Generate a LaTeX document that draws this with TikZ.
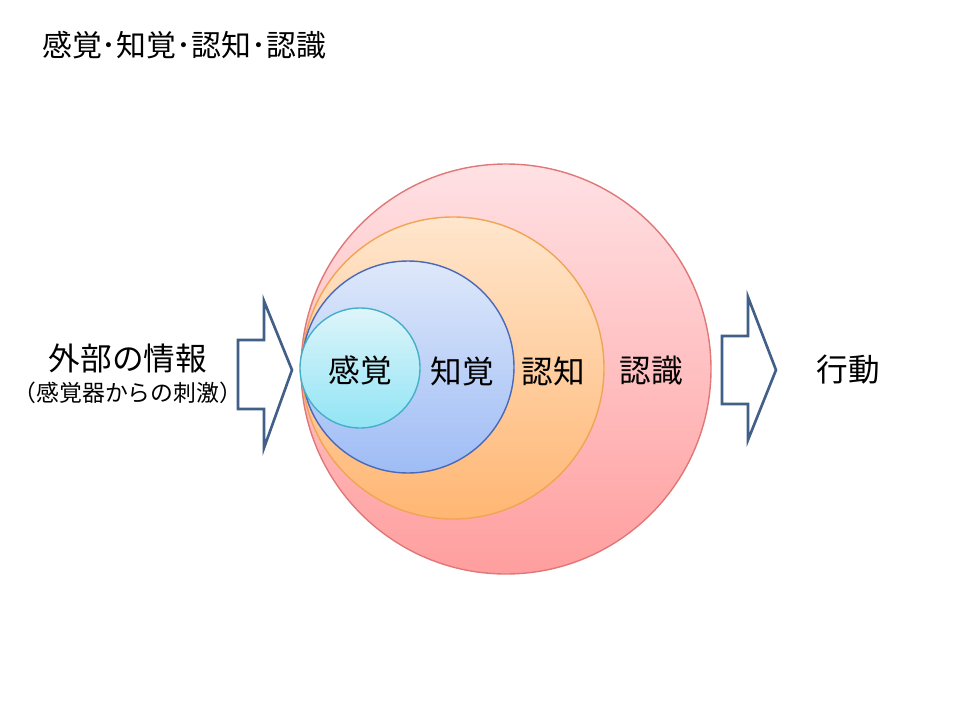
\documentclass[tikz,border=0pt]{standalone}
\usepackage{fontspec}
\setmainfont{Noto Sans CJK JP}
\usetikzlibrary{positioning}
\definecolor{ninshikiTop}{RGB}{255,225,228}
\definecolor{ninshikiBot}{RGB}{255,158,158}
\definecolor{ninshikiLine}{RGB}{225,120,120}
\definecolor{ninchiTop}{RGB}{255,230,205}
\definecolor{ninchiBot}{RGB}{255,182,115}
\definecolor{ninchiLine}{RGB}{240,165,85}
\definecolor{chikakuTop}{RGB}{222,232,250}
\definecolor{chikakuBot}{RGB}{158,188,245}
\definecolor{chikakuLine}{RGB}{75,105,185}
\definecolor{kankakuTop}{RGB}{222,245,250}
\definecolor{kankakuBot}{RGB}{145,228,245}
\definecolor{kankakuLine}{RGB}{70,175,200}
\definecolor{arrowLine}{RGB}{65,95,135}
\tikzset{
  ring/.style={circle,inner sep=0pt,line width=0.8pt},
  blockarrow/.style={draw=arrowLine,line width=1.5pt,fill=white,line join=miter},
  lbl/.style={font=\fontsize{18}{22}\selectfont}
}
\begin{document}
\begin{tikzpicture}[x=0.02cm,y=-0.02cm]
    \useasboundingbox (0,0) rectangle (960,720);

    % Title
    \node[anchor=west,font=\fontsize{17}{20}\selectfont] (title) at (36,45) {感覚･知覚･認知･認識};

    % Nested circles
    \node[ring,minimum size=410*0.02cm,draw=ninshikiLine,top color=ninshikiTop,bottom color=ninshikiBot] (ninshiki) at (506,369) {};
    \node[ring,minimum size=302*0.02cm,draw=ninchiLine,top color=ninchiTop,bottom color=ninchiBot] (ninchi) at (453,368) {};
    \node[ring,minimum size=212*0.02cm,draw=chikakuLine,top color=chikakuTop,bottom color=chikakuBot] (chikaku) at (408,367) {};
    \node[ring,minimum size=120*0.02cm,draw=kankakuLine,top color=kankakuTop,bottom color=kankakuBot] (kankaku) at (360,368) {};

    % Circle labels
    \node[lbl] (tKankaku) at (360,370) {感覚};
    \node[lbl] (tChikaku) at (462,371) {知覚};
    \node[lbl] (tNinchi) at (553,371) {認知};
    \node[lbl] (tNinshiki) at (651,371) {認識};

    % Block arrows
    \draw[blockarrow] (238,340) -- (264,340) -- (264,301) -- (292,370) -- (264,448) -- (264,409) -- (238,409) -- cycle;
    \draw[blockarrow] (722,336) -- (748,336) -- (748,297) -- (776,370) -- (748,440) -- (748,404) -- (722,404) -- cycle;

    % Side texts
    \node[lbl] (gaibu) at (128,358) {外部の情報};
    \node[font=\fontsize{13}{15}\selectfont,below=-2pt of gaibu] (shigeki) {（感覚器からの刺激）};
    \node[lbl] (koudou) at (848,370) {行動};
\end{tikzpicture}
\end{document}
